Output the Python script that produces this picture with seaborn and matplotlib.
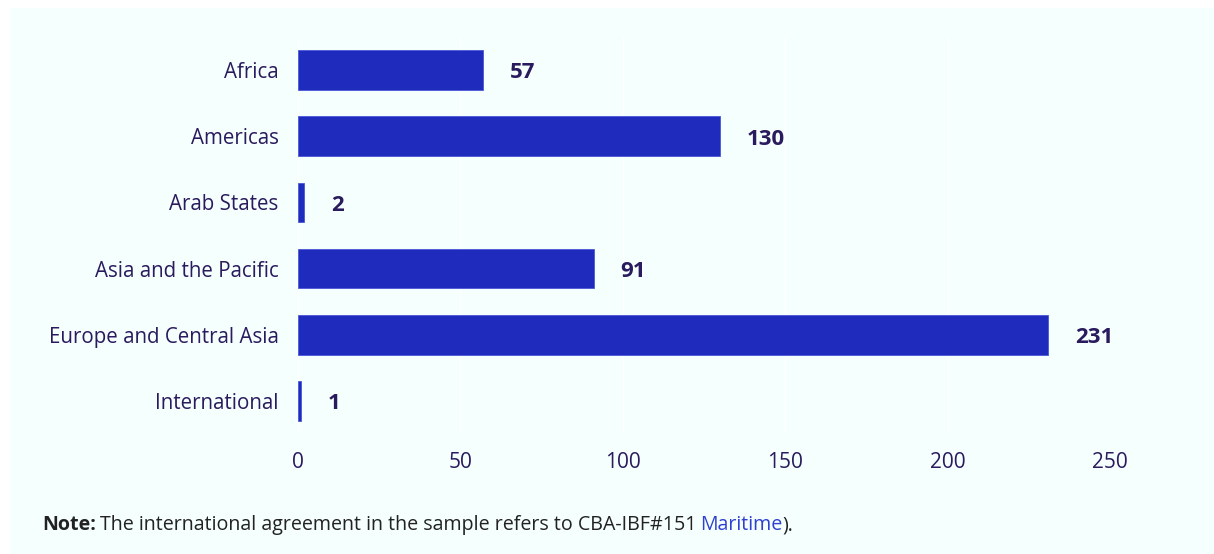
import matplotlib.pyplot as plt
import matplotlib.patches as mpatches
import seaborn as sns
import pandas as pd

regions = ["Africa", "Americas", "Arab States", "Asia and the Pacific",
           "Europe and Central Asia", "International"]
counts = [57, 130, 2, 91, 231, 1]
xticks = [0, 50, 100, 150, 200, 250]

bg = "#f5fffd"
bar_color = "#1f2bbd"
text_color = "#2a1a5e"

sns.set_theme(style="white")
plt.rcParams["font.family"] = ["Open Sans", "DejaVu Sans"]

df = pd.DataFrame({"region": regions, "count": counts})

fig = plt.figure(figsize=(12.14, 5.54), dpi=100, facecolor="white")
# mint panel behind everything
fig.add_artist(mpatches.Rectangle((10 / 1214, 0), 1, 1 - 8 / 554,
                                  transform=fig.transFigure,
                                  facecolor=bg, edgecolor="none", zorder=-10))
ax = fig.add_axes([298 / 1214, 1 - 434 / 554, (1110 - 298) / 1214, 397 / 554])
ax.set_facecolor(bg)

sns.barplot(data=df, x="count", y="region", orient="h", ax=ax,
            color=bar_color, width=0.6, saturation=1,
            edgecolor="#4a58d6", linewidth=0.6)

ax.set_xlim(0, 250)
ax.set_ylim(5.5, -0.5)
ax.set_xticks(xticks)
ax.xaxis.grid(True, color="#ffffff", linewidth=1)
ax.set_axisbelow(True)
for s in ax.spines.values():
    s.set_visible(False)
ax.tick_params(axis="x", length=0, pad=13, labelsize=15, labelcolor=text_color)
ax.tick_params(axis="y", length=0, pad=14, labelsize=14.8, labelcolor=text_color)
ax.set_xlabel("")
ax.set_ylabel("")

for i, v in enumerate(counts):
    ax.annotate(str(v), (v, i), xytext=(19, -2), textcoords="offset points",
                ha="left", va="center", fontsize=16, fontweight="bold",
                color=text_color)

# note line, pieces placed one after another
renderer = fig.canvas.get_renderer()
x = 42 / 1214
y = 1 - 525 / 554
pieces = [("Note:", "bold", "#222222", 4),
          ("The international agreement in the sample refers to CBA-IBF#151", "normal", "#222222", 4),
          ("Maritime", "normal", "#2f3fd0", 0),
          (").", "normal", "#222222", 0)]
for txt, weight, col, gap in pieces:
    t = fig.text(x, y, txt, fontsize=14.1, fontweight=weight, color=col,
                 va="center", ha="left")
    bb = t.get_window_extent(renderer)
    x += (bb.width + gap) / fig.bbox.width

fig.savefig("out.png", dpi=100, facecolor="white")
